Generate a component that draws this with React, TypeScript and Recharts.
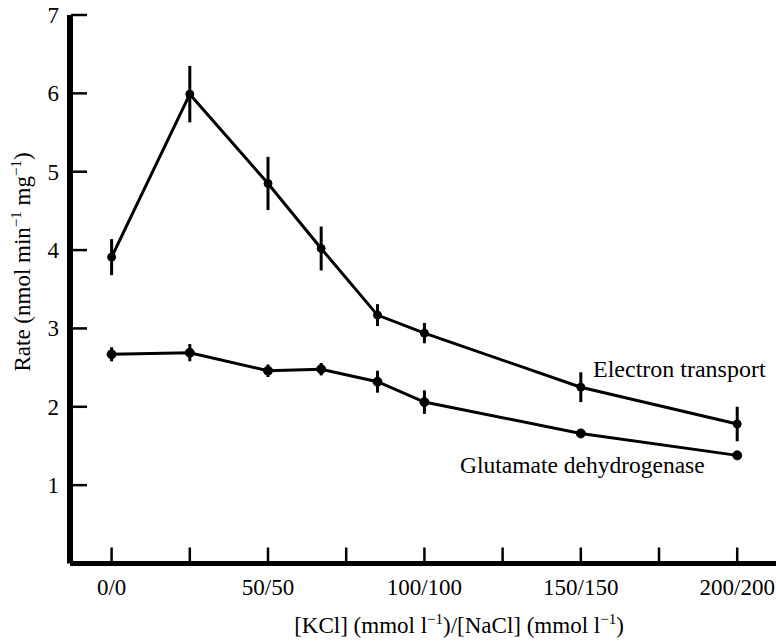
import React from 'react';
import { LineChart, Line, XAxis, YAxis, ErrorBar, Customized } from 'recharts';

const xValues = [0, 25, 50, 67, 85, 100, 150, 200];
const electronTransport = [3.91, 5.99, 4.85, 4.02, 3.17, 2.94, 2.25, 1.78];
const electronErr = [0.23, 0.36, 0.34, 0.28, 0.14, 0.13, 0.19, 0.22];
const glutamate = [2.67, 2.69, 2.46, 2.48, 2.32, 2.06, 1.66, 1.38];
const glutamateErr = [0.09, 0.11, 0.08, 0.08, 0.14, 0.15, 0.04, 0.03];
const xTicks = [0, 25, 50, 75, 100, 125, 150, 175, 200];
const xTickLabels: Record<number, string> = { 0: '0/0', 50: '50/50', 100: '100/100', 150: '150/150', 200: '200/200' };
const yTicks = [1, 2, 3, 4, 5, 6, 7];

const data = xValues.map((x, i) => ({
  x,
  et: electronTransport[i],
  etErr: electronErr[i],
  gdh: glutamate[i],
  gdhErr: glutamateErr[i],
}));

const FONT = '"Liberation Serif", "DejaVu Serif", serif';

const XTick = (props: any) => {
  const { x, y, payload } = props;
  const label = xTickLabels[payload.value];
  return (
    <g>
      <line x1={x} x2={x} y1={y - 1} y2={y - 16} stroke="#000" strokeWidth={2.5} />
      {label && (
        <text x={x} y={y + 31} textAnchor="middle" fontFamily={FONT} fontSize={23} fill="#000">
          {label}
        </text>
      )}
    </g>
  );
};

const YTick = (props: any) => {
  const { x, y, payload } = props;
  return (
    <g>
      <line x1={x + 1} x2={x + 17} y1={y} y2={y} stroke="#000" strokeWidth={2.5} />
      <text x={x - 11} y={y + 8} textAnchor="end" fontFamily={FONT} fontSize={23} fill="#000">
        {payload.value}
      </text>
    </g>
  );
};

const Annotations = () => (
  <g fontFamily={FONT} fill="#000">
    <text transform="translate(30,262) rotate(-90)" textAnchor="middle" fontSize={23}>
      Rate (nmol min<tspan dy={-9} fontSize={15}>−1</tspan>
      <tspan dy={9}> mg</tspan>
      <tspan dy={-9} fontSize={15}>−1</tspan>
      <tspan dy={9}>)</tspan>
    </text>
    <text x={459} y={633} textAnchor="middle" fontSize={23}>
      [KCl] (mmol l<tspan dy={-9} fontSize={15}>−1</tspan>
      <tspan dy={9}>)/[NaCl] (mmol l</tspan>
      <tspan dy={-9} fontSize={15}>−1</tspan>
      <tspan dy={9}>)</tspan>
    </text>
    <text x={593} y={377} fontSize={24}>Electron transport</text>
    <text x={460} y={473} fontSize={23.5}>Glutamate dehydrogenase</text>
  </g>
);

export default function App() {
  return (
    <div style={{ position: 'absolute', left: 0, top: 0, background: '#fff' }}>
      <LineChart
        width={776}
        height={642}
        data={data}
        margin={{ top: 15, right: 0, bottom: 48.5, left: 0 }}
      >
        <XAxis
          type="number"
          dataKey="x"
          domain={[-13.3, 212.4]}
          allowDataOverflow
          ticks={xTicks}
          interval={0}
          tickLine={false}
          tickSize={0}
          tickMargin={0}
          height={30}
          axisLine={{ stroke: '#000', strokeWidth: 5 }}
          tick={<XTick />}
        />
        <YAxis
          type="number"
          domain={[0, 7]}
          allowDataOverflow
          ticks={yTicks}
          interval={0}
          tickLine={false}
          tickSize={0}
          tickMargin={0}
          width={70}
          axisLine={{ stroke: '#000', strokeWidth: 6 }}
          tick={<YTick />}
        />
        <Line
          type="linear"
          dataKey="et"
          stroke="#000"
          strokeWidth={3}
          dot={{ r: 4, fill: '#000', stroke: '#000', strokeWidth: 1 }}
          isAnimationActive={false}
        >
          <ErrorBar dataKey="etErr" direction="y" width={0} strokeWidth={3} stroke="#000" />
        </Line>
        <Line
          type="linear"
          dataKey="gdh"
          stroke="#000"
          strokeWidth={3}
          dot={{ r: 4.5, fill: '#000', stroke: '#000', strokeWidth: 1 }}
          isAnimationActive={false}
        >
          <ErrorBar dataKey="gdhErr" direction="y" width={0} strokeWidth={3} stroke="#000" />
        </Line>
        <Customized component={Annotations} />
      </LineChart>
    </div>
  );
}
